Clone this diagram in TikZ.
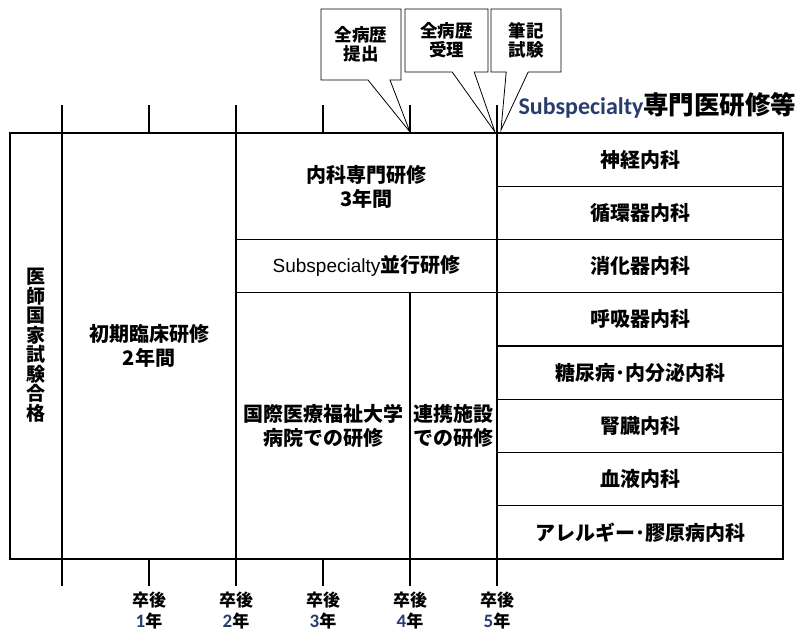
\documentclass[tikz,border=0pt]{standalone}
\usepackage{fontspec}
\setmainfont{Liberation Sans}
\newfontfamily\jpfont{Noto Sans CJK JP}
\newfontfamily\calfont{Carlito}
\usetikzlibrary{shapes.callouts}
\definecolor{navytext}{RGB}{40,60,110}

\begin{document}
\begin{tikzpicture}[x=1pt, y=-1pt, line width=1.2pt,
  cell/.style={font=\jpfont\bfseries\fontsize{20}{24}\selectfont, align=center, inner sep=0pt},
  memo/.style={rectangle callout, draw, fill=white, line width=0.8pt, inner sep=0pt,
    callout pointer width=22pt, align=center, font=\jpfont\bfseries\fontsize{17.5}{19}\selectfont},
  yearlbl/.style={font=\jpfont\bfseries\fontsize{17}{21}\selectfont, align=center, inner sep=0pt}]
\useasboundingbox (0,0) rectangle (802,633);
\fill[white] (0,0) rectangle (802,633);

\coordinate (TL) at (10,133);
\coordinate (BR) at (783,559);
\foreach \x [count=\i from 0] in {62,149,236,323,410,497} {
  \coordinate (T\i) at (\x,105);
  \coordinate (B\i) at (\x,586);
}
\coordinate (R2) at (236,239.5);
\coordinate (R3) at (236,292.75);

\draw (TL) rectangle (BR);
\draw (T0) -- (B0);
\draw (T2) -- (B2);
\draw (T5) -- (B5);
\foreach \i in {1,3,4} {
  \draw (T\i) -- (T\i |- TL);
  \draw (B\i) -- (B\i |- BR);
}
\draw (T4 |- R3) -- (B4 |- BR);
\draw (R2) -- (R2 -| BR);
\draw (R3) -- (R3 -| BR);
\foreach \k in {1,4,5,6,7}
  \draw (497,133+53.25*\k) -- (783,133+53.25*\k);

\node[cell, font=\jpfont\bfseries\fontsize{19}{19.5}\selectfont] (exam) at (36,345)
  {医\\師\\国\\家\\試\\験\\合\\格};
\node[cell] (junior) at (149,346) {初期臨床研修\\2年間};
\node[cell] (senior) at (366.5,187) {内科専門研修\\3年間};
\node[cell] (parallel) at (366.5,266) {{\mdseries\rmfamily\fontsize{19}{24}\selectfont Subspecialty}並行研修};
\node[cell] (univ) at (323,426) {国際医療福祉大学\\病院での研修};
\node[cell] (partner) at (453.5,426) {連携施設\\での研修};

\foreach \name [count=\k from 0] in {神経内科,循環器内科,消化器内科,呼吸器内科,
    糖尿病･内分泌内科,腎臓内科,血液内科,アレルギー･膠原病内科}
  \node[cell] (D\k) at (640,159.6+53.25*\k) {\name};

\node[anchor=west, inner sep=0pt] (subsp) at (518,105)
  {{\calfont\bfseries\fontsize{24}{26}\selectfont\color{navytext}Subspecialty}{\jpfont\bfseries\fontsize{25.5}{26}\selectfont 専門医研修等}};

\coordinate (P1) at (410,132);
\coordinate (P2) at (495,132);
\coordinate (P3) at (501,130);
\node[memo, minimum width=80pt, minimum height=71pt, callout absolute pointer=(P1)] (M1)
  at (361,44.5) {全病歴\\提出};
\node[memo, minimum width=83pt, minimum height=63pt, callout absolute pointer=(P2)] (M2)
  at (446.5,40.5) {全病歴\\受理};
\node[memo, minimum width=70pt, minimum height=63pt, callout absolute pointer=(P3)] (M3)
  at (526,40.5) {筆記\\試験};

\foreach \i in {1,...,5}
  \node[yearlbl] (Y\i) at (B\i |- 0,610) {卒後\\{\calfont\bfseries\fontsize{19}{21}\selectfont\color{navytext}\i}年};
\end{tikzpicture}
\end{document}
